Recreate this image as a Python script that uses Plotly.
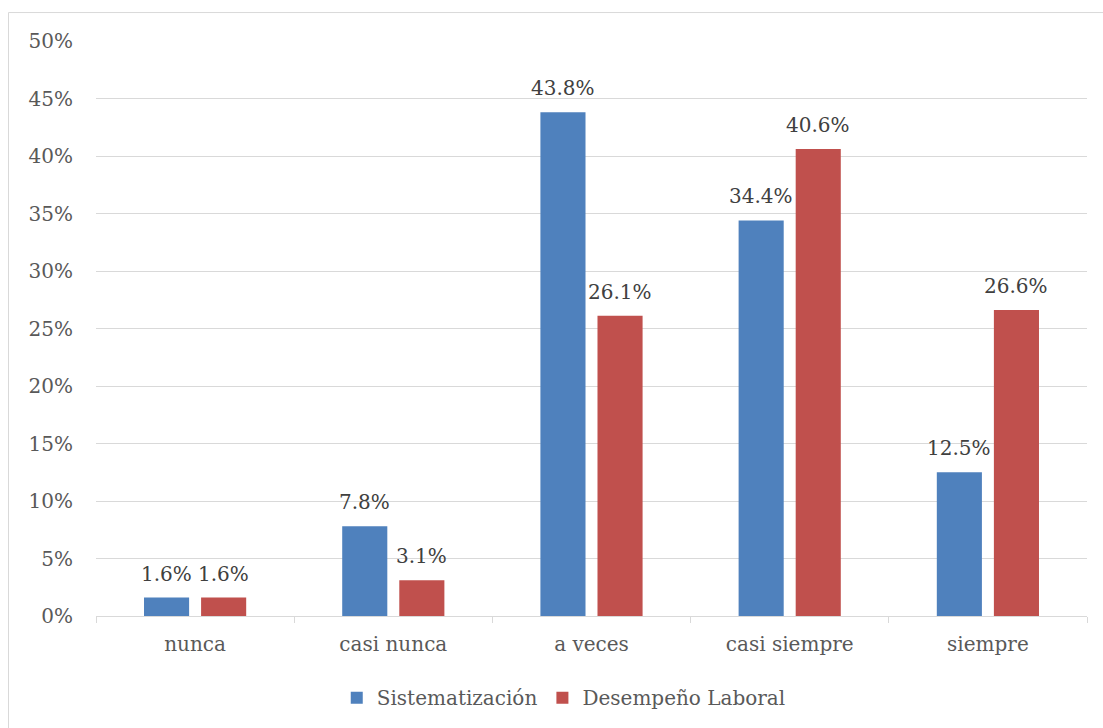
import plotly.graph_objects as go

categories = ["nunca", "casi nunca", "a veces", "casi siempre", "siempre"]
sistematizacion = [0.016, 0.078, 0.438, 0.344, 0.125]
desempeno = [0.016, 0.031, 0.261, 0.406, 0.266]
y_ticks = [0, 0.05, 0.10, 0.15, 0.20, 0.25, 0.30, 0.35, 0.40, 0.45, 0.50]

FONT = "DejaVu Serif"
GRID = "#d9d9d9"
LABEL = "#404040"

series = [
    ("Sistematización", sistematizacion, "#4f81bd", -28.5),
    ("Desempeño Laboral", desempeno, "#c0504d", 28.5),
]

fig = go.Figure()
annotations = []
for name, vals, color, xoff in series:
    fig.add_trace(go.Bar(
        name=name, x=categories, y=vals,
        marker=dict(color=color, line=dict(width=0)),
    ))
    # value labels above each bar
    for cat, v in zip(categories, vals):
        annotations.append(dict(
            x=cat, y=v, xref="x", yref="y", text=f"{v * 100:.1f}%",
            showarrow=False, xshift=xoff, yshift=24, yanchor="middle",
            font=dict(family=FONT, size=20, color=LABEL),
        ))

fig.update_layout(
    width=1103, height=728,
    margin=dict(l=96, r=16, t=41, b=111),
    paper_bgcolor="white", plot_bgcolor="white",
    barmode="group", bargap=0.424, bargroupgap=0.21,
    font=dict(family=FONT, size=20, color="#595959"),
    showlegend=True,
    legend=dict(orientation="h", x=0.472, xanchor="center", y=-0.14, yanchor="middle",
                font=dict(family=FONT, size=20, color="#595959"),
                itemclick=False, traceorder="normal"),
    xaxis=dict(showgrid=False, showline=True, linecolor=GRID, linewidth=1,
               ticks="outside", tickson="boundaries", ticklen=6, tickcolor=GRID,
               ticklabelstandoff=10,
               tickfont=dict(family=FONT, size=20, color="#595959")),
    yaxis=dict(range=[0, 0.5], tickvals=y_ticks, tickformat=".0%",
               showgrid=True, gridcolor=GRID, gridwidth=1, zeroline=False,
               showline=False, ticks="", ticklabelstandoff=22,
               tickfont=dict(family=FONT, size=20, color="#595959")),
    annotations=annotations,
    shapes=[dict(type="rect", xref="paper", yref="paper",
                 x0=-0.0883, x1=1.03, y0=-0.21, y1=1.0495,
                 line=dict(color=GRID, width=1), layer="below")],
)

fig.write_html("out.html")
